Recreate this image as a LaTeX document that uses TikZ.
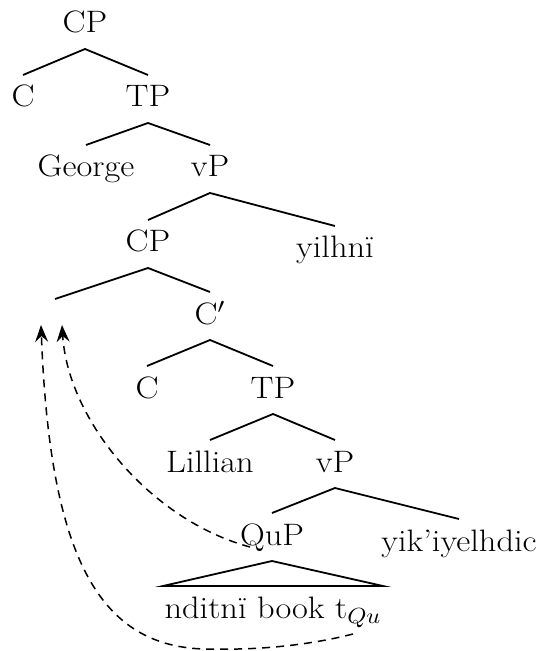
\documentclass[tikz,border=0pt]{standalone}
\usepackage{fontspec}
\usepackage{graphicx}
\usetikzlibrary{arrows.meta}
\newcommand{\hscl}[1]{\scalebox{1.11}[1]{#1}}
\tikzset{
  lbl/.style={inner sep=0pt, outer sep=0pt, text height=16pt, text depth=8pt, anchor=base,
    font=\fontsize{15.5}{18}\selectfont},
  edge/.style={line width=0.9pt},
  mv/.style={dashed, dash pattern=on 4pt off 3pt, line width=0.75pt,
    -{Stealth[length=8.5pt,width=6.5pt,inset=3pt]}}
}
\begin{document}
\begin{tikzpicture}[x=0.5pt,y=-0.5pt]
\useasboundingbox (0,0) rectangle (545,651);
\node[lbl] (cp1) at (85,33) {\hscl{CP}};
\node[lbl] (c1) at (23,107) {\hscl{C}};
\node[lbl] (tp1) at (148,107) {\hscl{TP}};
\node[lbl] (george) at (86,177) {\hscl{George}};
\node[lbl] (vp1) at (210,177) {\hscl{vP}};
\node[lbl] (cp2) at (148,252) {\hscl{CP}};
\node[lbl] (yil) at (335,258) {\hscl{yilhnï}};
\node[lbl] (spec) at (55,331) {};
\node[lbl] (cbar) at (210,324) {\hscl{C$'$}};
\node[lbl] (c2) at (147,398) {\hscl{C}};
\node[lbl] (tp2) at (273,398) {\hscl{TP}};
\node[lbl] (lil) at (210,472) {\hscl{Lillian}};
\node[lbl] (vp2) at (335,472) {\hscl{vP}};
\node[lbl] (qup) at (272,545) {\hscl{QuP}};
\node[lbl] (yik) at (459,551) {\hscl{yik’iyelhdic}};
\node[lbl, minimum width=110pt] (txt) at (273,618) {\hscl{nditnï book t$_{Qu}$}};

\draw[edge] (c1.north) -- (cp1.south) -- (tp1.north);
\draw[edge] (george.north) -- (tp1.south) -- (vp1.north);
\draw[edge] (cp2.north) -- (vp1.south) -- (yil.north);
\draw[edge] (spec.north) -- (cp2.south) -- (cbar.north);
\draw[edge] (c2.north) -- (cbar.south) -- (tp2.north);
\draw[edge] (lil.north) -- (tp2.south) -- (vp2.north);
\draw[edge] (qup.north) -- (vp2.south) -- (yik.north);
\draw[edge] (qup.south) -- (txt.north west) -- (txt.north east) -- cycle;

\coordinate (t1) at ([xshift=-7pt,yshift=3pt]spec.base);
\coordinate (t2) at ([xshift=3.5pt,yshift=3pt]spec.base);
\coordinate (s1) at ([xshift=40pt]txt.south);
\coordinate (s2) at ([xshift=-11pt,yshift=-1pt]qup.base);

\draw[mv] (s1) .. controls (310,645) and (260,650) .. (215,649)
  .. controls (100,652) and (50,560) .. (t1);
\draw[mv] (s2) .. controls (150,520) and (68,420) .. (t2);
\end{tikzpicture}
\end{document}
